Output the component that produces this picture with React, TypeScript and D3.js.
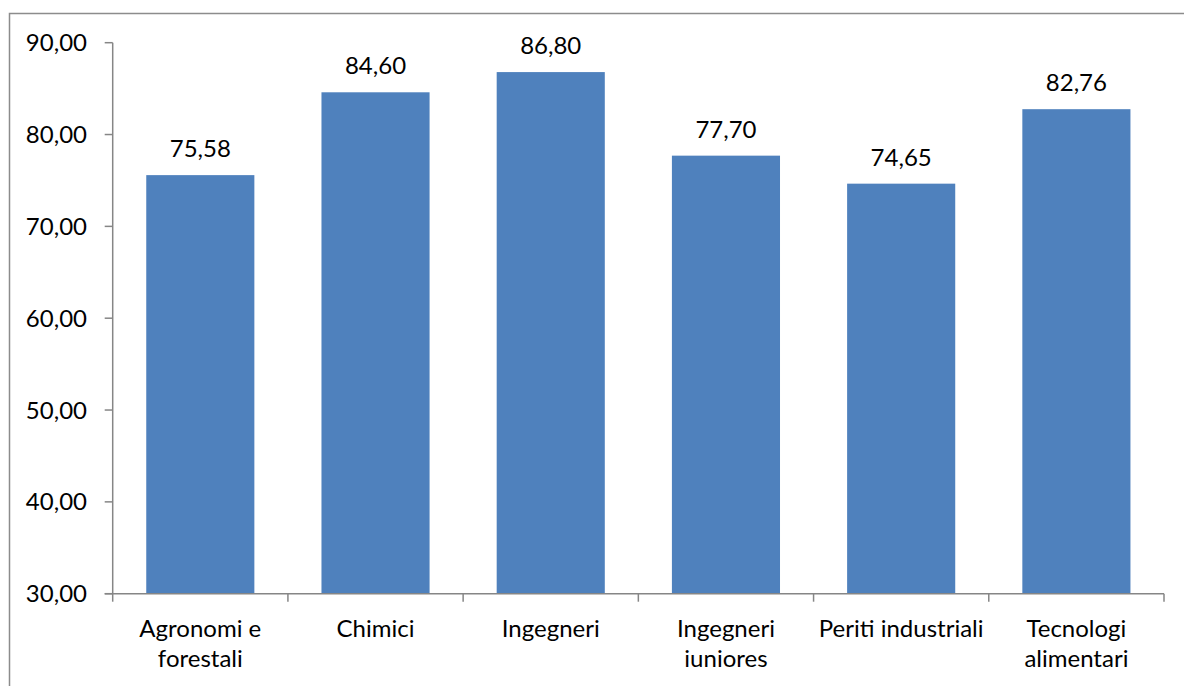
import React from "react";
import * as d3 from "d3";

const categories: string[][] = [
  ["Agronomi e", "forestali"],
  ["Chimici"],
  ["Ingegneri"],
  ["Ingegneri", "iuniores"],
  ["Periti industriali"],
  ["Tecnologi", "alimentari"],
];
const values: number[] = [75.58, 84.6, 86.8, 77.7, 74.65, 82.76];
const yTicks: number[] = [30, 40, 50, 60, 70, 80, 90];

const W = 1184;
const H = 686;
const left = 112.7;
const right = 1164;
const top = 42.7;
const bottom = 593.7;
const FONT = "Lato, 'Open Sans', sans-serif";
const FS = 24;
const fmt = (v: number) => v.toFixed(2).replace(".", ",");

export default function App() {
  const keys = categories.map((c) => c.join(" "));
  const x = d3
    .scaleBand<string>()
    .domain(keys)
    .range([left, right])
    .paddingInner(0.383)
    .paddingOuter(0.383 / 2);
  const y = d3.scaleLinear().domain([30, 90]).range([bottom, top]);
  const step = x.step();
  const axisColor = "#868686";

  return (
    <svg
      width={W}
      height={H}
      style={{ position: "absolute", left: 0, top: 0, display: "block" }}
      fontFamily={FONT}
    >
      <rect x={0} y={0} width={W} height={H} fill="#fff" />
      <rect x={9.5} y={13.5} width={W + 10} height={H + 10} fill="none" stroke="#8c8c8c" strokeWidth={1.5} />

      {/* bars */}
      {values.map((v, i) => (
        <rect
          key={i}
          x={x(keys[i])}
          y={y(v)}
          width={x.bandwidth()}
          height={y(30) - y(v)}
          fill="#4F81BD"
        />
      ))}

      {/* data labels */}
      {values.map((v, i) => (
        <text
          key={"l" + i}
          x={(x(keys[i]) as number) + x.bandwidth() / 2}
          y={y(v) - 18}
          textAnchor="middle"
          fontSize={FS}
          fill="#000"
        >
          {fmt(v)}
        </text>
      ))}

      {/* y axis */}
      <line x1={left} x2={left} y1={top} y2={bottom} stroke={axisColor} strokeWidth={1.5} />
      {yTicks.map((t) => (
        <g key={t}>
          <line x1={left - 8} x2={left} y1={y(t)} y2={y(t)} stroke={axisColor} strokeWidth={1.5} />
          <text x={87} y={y(t) + 8.5} textAnchor="end" fontSize={FS} fill="#000">
            {fmt(t)}
          </text>
        </g>
      ))}

      {/* x axis */}
      <line x1={left - 8} x2={right} y1={bottom} y2={bottom} stroke={axisColor} strokeWidth={1.5} />
      {d3.range(categories.length + 1).map((i) => (
        <line
          key={"xt" + i}
          x1={left + i * step}
          x2={left + i * step}
          y1={bottom}
          y2={bottom + 8}
          stroke={axisColor}
          strokeWidth={1.5}
        />
      ))}
      {categories.map((lines, i) => (
        <text
          key={"c" + i}
          x={(x(keys[i]) as number) + x.bandwidth() / 2}
          textAnchor="middle"
          fontSize={FS}
          fill="#000"
        >
          {lines.map((ln, j) => (
            <tspan key={j} x={(x(keys[i]) as number) + x.bandwidth() / 2} y={637 + j * 30}>
              {ln}
            </tspan>
          ))}
        </text>
      ))}
    </svg>
  );
}
